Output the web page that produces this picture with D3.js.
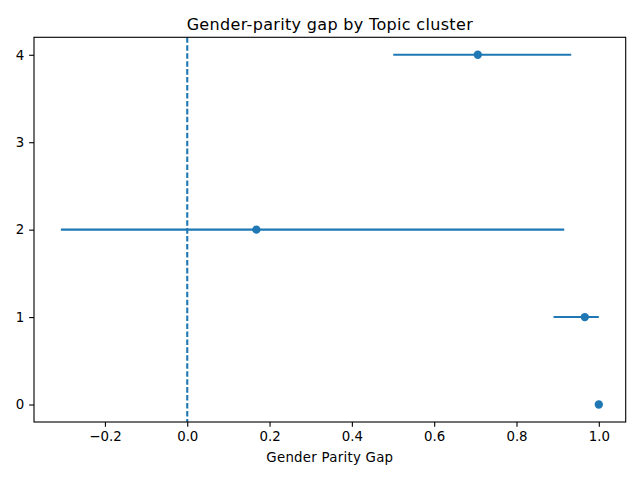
<!DOCTYPE html>
<html><head><meta charset="utf-8">
<script src="https://cdn.jsdelivr.net/npm/d3@7"></script>
<style>body{margin:0;background:#fff}svg{display:block}text{font-family:"DejaVu Sans",sans-serif}</style>
</head><body><svg id="c" width="640" height="480"></svg>
<script>
const clusters = [0, 1, 2, 3, 4];
const clusterIds = [0, 1, 2, 4];
const gapValues = [1.0, 0.966, 0.168, 0.706];
const gapLow = [1.0, 0.890, -0.307, 0.5005];
const gapHigh = [1.0, 1.0, 0.916, 0.933];
const xTicks = [-0.2, 0.0, 0.2, 0.4, 0.6, 0.8, 1.0];
const titleText = "Gender-parity gap by Topic cluster";
const xLabelText = "Gender Parity Gap";

const svg = d3.select("#c");
const L = 34, R = 625.7, T = 37.3, B = 422;
const color = "#1f77b4";
const lo = d3.min(gapLow), hi = d3.max(gapHigh), m = (hi - lo) * 0.05;
const x = d3.scaleLinear().domain([lo - m, hi + m]).range([L, R]);
const y = d3.scaleLinear().domain([-0.2, 4.2]).range([B, T]);

svg.append("rect").attr("x",0).attr("y",0).attr("width",640).attr("height",480).attr("fill","#fff");

// zero line
svg.append("line").attr("x1", x(0)).attr("x2", x(0)).attr("y1", T).attr("y2", B)
  .attr("stroke", color).attr("stroke-width", 1.5*100/72).attr("stroke-dasharray", "5.55,2.4");

const data = clusterIds.map((c,i)=>({c, v: gapValues[i], lo: gapLow[i], hi: gapHigh[i]}));
svg.selectAll("line.err").data(data.filter(d=>d.hi>d.lo)).enter().append("line").attr("class","err")
  .attr("x1", d=>x(d.lo)).attr("x2", d=>x(d.hi)).attr("y1", d=>y(d.c)).attr("y2", d=>y(d.c))
  .attr("stroke", color).attr("stroke-width", 1.5*100/72);
svg.selectAll("circle").data(data).enter().append("circle")
  .attr("cx", d=>x(d.v)).attr("cy", d=>y(d.c)).attr("r", 4.17).attr("fill", color);

// axes
const xa = svg.append("g").attr("transform", `translate(0,${B})`)
  .call(d3.axisBottom(x).tickValues(xTicks).tickFormat(d3.format(".1f")).tickSizeOuter(0).tickSize(4.86).tickPadding(4.86));
const ya = svg.append("g").attr("transform", `translate(${L},0)`)
  .call(d3.axisLeft(y).tickValues(clusters).tickFormat(d3.format("d")).tickSizeOuter(0).tickSize(4.86).tickPadding(4.86));
[xa, ya].forEach(g=>{
  g.select(".domain").remove();
  g.selectAll(".tick line").attr("stroke","#000").attr("stroke-width",1.11);
  g.selectAll(".tick text").attr("fill","#000").attr("font-size","13.33px").attr("font-family","DejaVu Sans");
});
svg.append("rect").attr("x", L).attr("y", T).attr("width", R-L).attr("height", B-T)
  .attr("fill","none").attr("stroke","#000").attr("stroke-width",1.11);

svg.append("text").attr("x", (L+R)/2).attr("y", 30).attr("text-anchor","middle")
  .attr("font-size","16px").attr("letter-spacing","0.33px").attr("fill","#000").text(titleText);
svg.append("text").attr("x", (L+R)/2).attr("y", 462).attr("text-anchor","middle")
  .attr("font-size","13.33px").attr("letter-spacing","0.27px").attr("fill","#000").text(xLabelText);
</script></body></html>
